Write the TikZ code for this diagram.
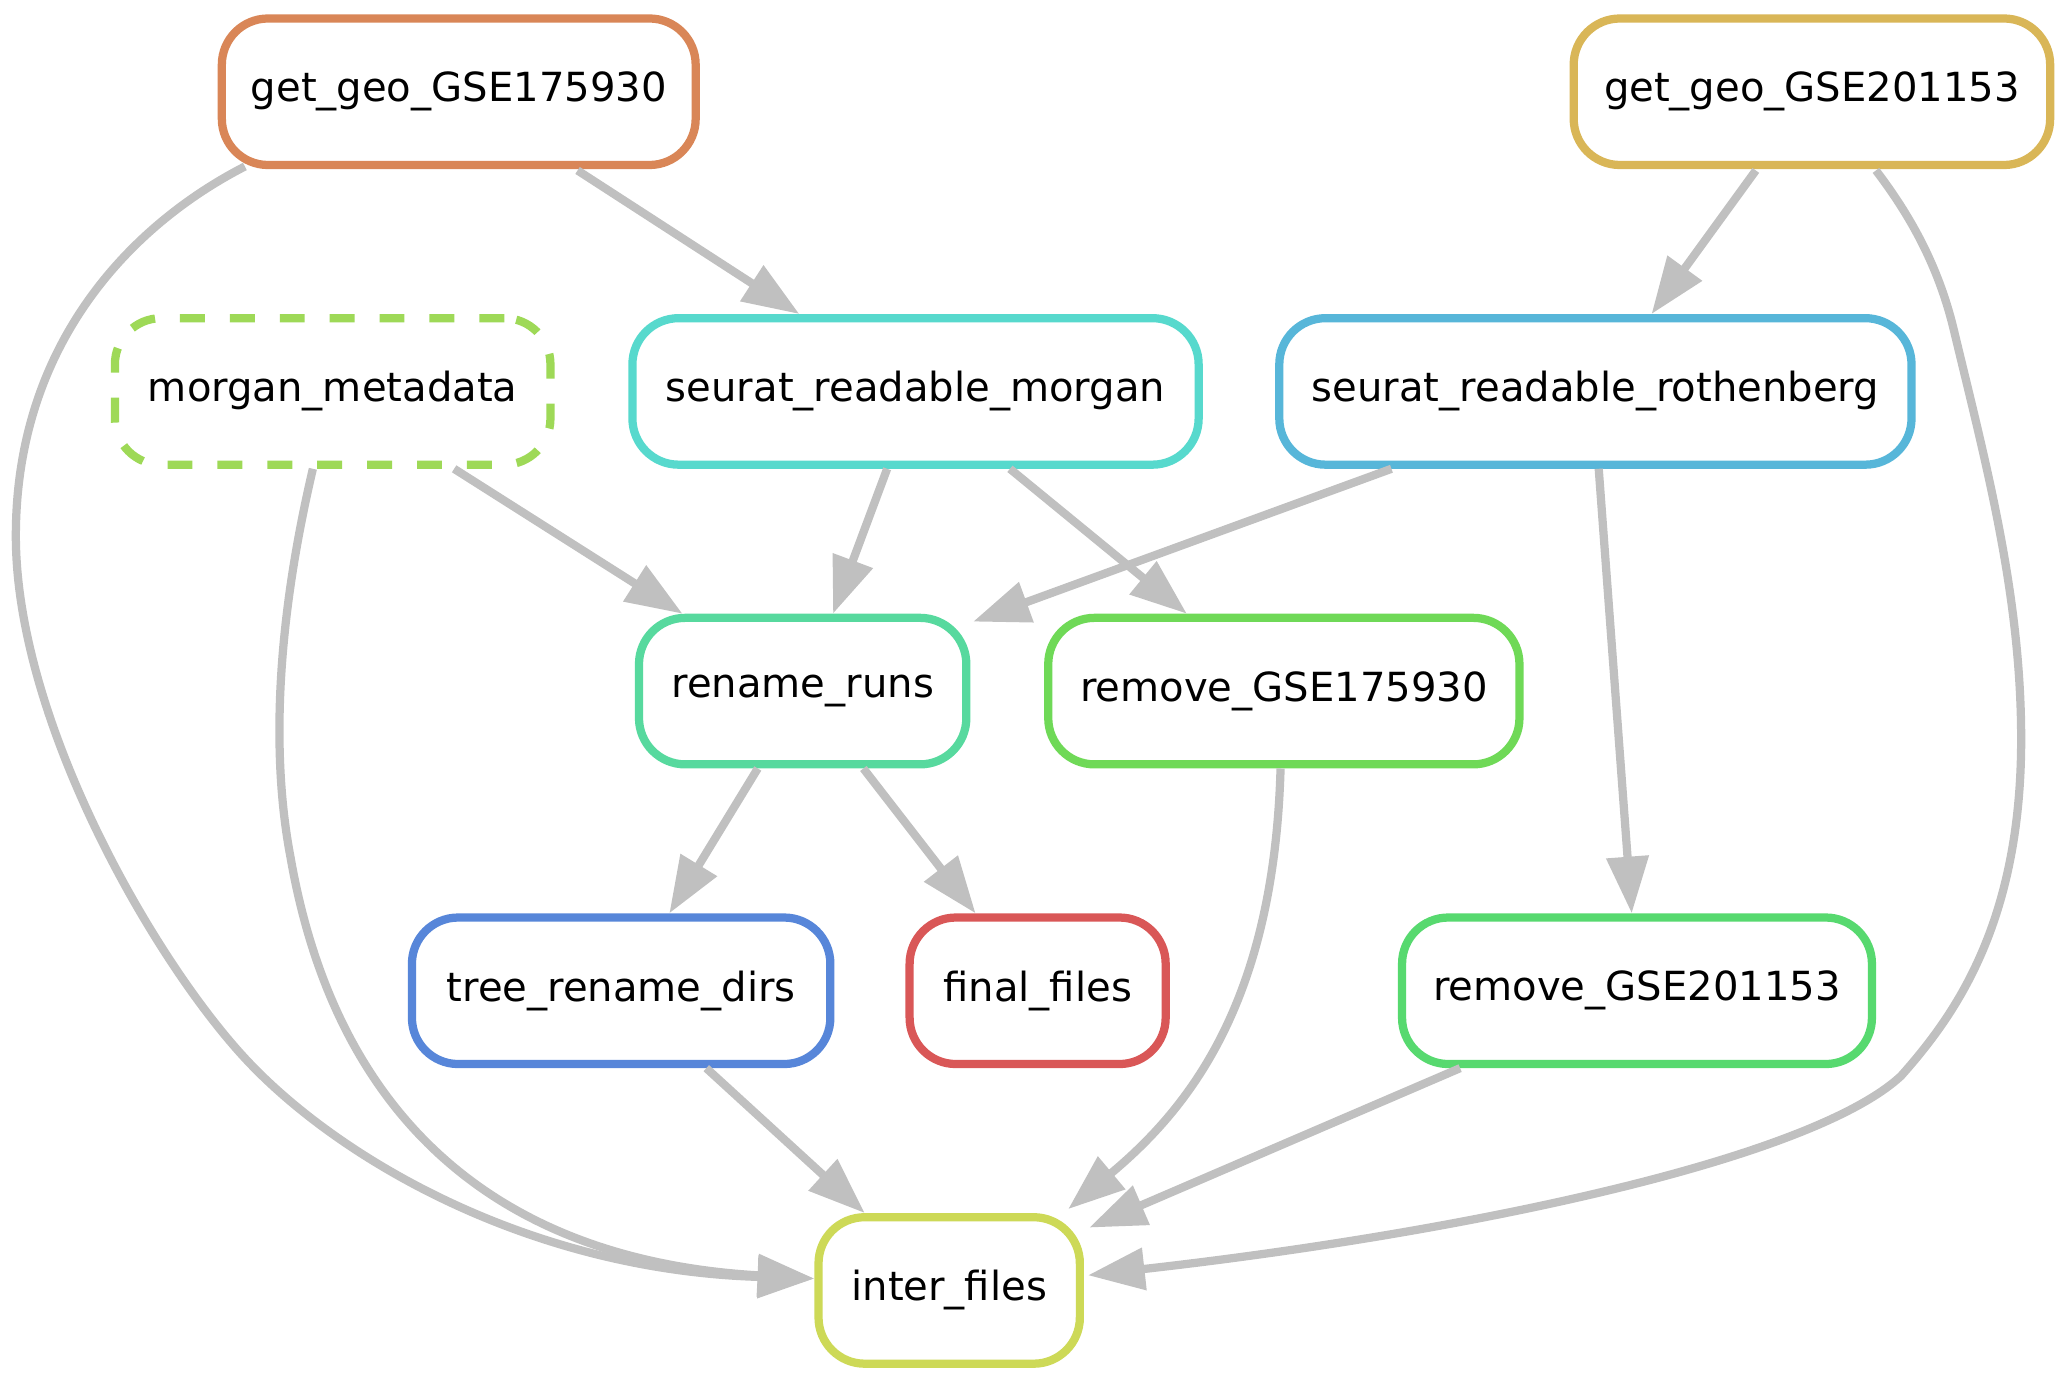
\documentclass[tikz,border=0pt]{standalone}
\usepackage{fontspec}
\setmainfont{DejaVu Sans}
\usetikzlibrary{arrows.meta,calc}
\definecolor{cA}{HTML}{D98657}
\definecolor{cB}{HTML}{D9B657}
\definecolor{cC}{HTML}{CDD957}
\definecolor{cD}{HTML}{9ED957}
\definecolor{cE}{HTML}{6FD957}
\definecolor{cF}{HTML}{57D96F}
\definecolor{cG}{HTML}{57D99E}
\definecolor{cH}{HTML}{57D9CD}
\definecolor{cI}{HTML}{57B6D9}
\definecolor{cJ}{HTML}{5786D9}
\definecolor{cK}{HTML}{D95757}
\definecolor{edgegrey}{HTML}{C0C0C0}
\begin{document}
\begin{tikzpicture}[x=0.02cm,y=-0.02cm,
  rule/.style={draw=#1, line width=0.125cm, rounded corners=0.7cm, minimum height=2.22cm,
    fill=white, inner sep=0pt, font=\fontsize{17.3}{20}\selectfont},
  dep/.style={draw=edgegrey, line width=0.125cm, -{Triangle[length=0.86cm,width=0.62cm]}}
]
\useasboundingbox (0,0) rectangle (1568,1047.6);

\node[rule=cA, minimum width=7.18cm] (gg1) at (347.5,69.5) {get\_geo\_GSE175930};
\node[rule=cB, minimum width=7.22cm] (gg2) at (1372.5,69.5) {get\_geo\_GSE201153};
\node[rule=cD, minimum width=6.6cm, dash pattern=on 0.378cm off 0.378cm] (mm) at (252,296.5) {morgan\_metadata};
\node[rule=cH, minimum width=8.58cm] (sm) at (693.5,296.5) {seurat\_readable\_morgan};
\node[rule=cI, minimum width=9.58cm] (sr) at (1208.5,296.5) {seurat\_readable\_rothenberg};
\node[rule=cG, minimum width=4.96cm] (rr) at (608,523.5) {rename\_runs};
\node[rule=cE, minimum width=7.14cm] (r1) at (972.5,523.5) {remove\_GSE175930};
\node[rule=cJ, minimum width=6.34cm] (tr) at (470.5,750.5) {tree\_rename\_dirs};
\node[rule=cK, minimum width=3.88cm] (ff) at (786,750.5) {final\_files};
\node[rule=cF, minimum width=7.12cm] (r2) at (1240,750.5) {remove\_GSE201153};
\node[rule=cC, minimum width=3.96cm] (inter) at (719,977.5) {inter\_files};

\draw[dep] ($(gg1.south)+(90,1)$) -- ($(sm.north)+(-88,0)$);
\draw[dep] ($(gg1.south)+(-162,-2)$) .. controls (100,170) and (12,260) .. (12,406)
  .. controls (12,545) and (115,725) .. (185,801)
  .. controls (255,877) and (400,962) .. ($(inter.west)+(0,-9)$);
\draw[dep] ($(mm.south)+(92,0)$) -- ($(rr.north)+(-91,0)$);
\draw[dep] ($(mm.south)+(-15,0)$) .. controls (210,470) and (205,570) .. (220,649)
  .. controls (255,850) and (380,955) .. ($(inter.west)+(0,-9)$);
\draw[dep] ($(sm.south)+(-21.5,0)$) -- ($(rr.north)+(23,0)$);
\draw[dep] ($(sm.south)+(71.5,0)$) -- ($(r1.north)+(-73.5,0)$);
\draw[dep] ($(gg2.south)+(-42.5,1)$) -- ($(sr.north)+(42.5,0)$);
\draw[dep] ($(gg2.south)+(48.5,1)$) .. controls (1446,162) and (1468,200) .. (1480,250)
  .. controls (1504,350) and (1531,450) .. (1531,560)
  .. controls (1531,700) and (1480,770) .. (1440,815)
  .. controls (1370,880) and (1100,935) .. ($(inter.east)+(3,-11.5)$);
\draw[dep] ($(sr.south)+(-154.5,0)$) -- ($(rr.north east)+(2,6)$);
\draw[dep] ($(sr.south)+(2.5,0)$) -- ($(r2.north)+(-4,0)$);
\draw[dep] ($(rr.south)+(-34,0)$) -- ($(tr.north)+(36.5,0)$);
\draw[dep] ($(rr.south)+(46,0)$) -- ($(ff.north)+(-47,0)$);
\draw[dep] ($(tr.south)+(64.5,0)$) -- ($(inter.north)+(-64,0)$);
\draw[dep] ($(r1.south)+(-2.5,0)$) .. controls (965,760) and (900,840) .. ($(inter.north east)+(-12,-3)$);
\draw[dep] ($(r2.south)+(-134,0)$) -- ($(inter.north east)+(4,11)$);
\end{tikzpicture}
\end{document}
